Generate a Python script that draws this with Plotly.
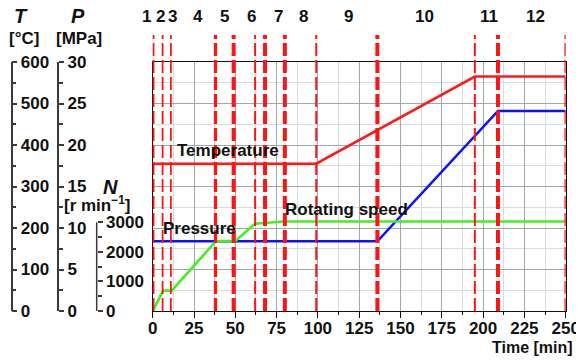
import plotly.graph_objects as go

# ---- data ----
time_T = [0, 99, 195, 250]
temp_C = [355, 355, 565, 565]

time_P = [0, 136, 209, 250]
pres_MPa = [8.4, 8.4, 24.1, 24.1]

time_N = [0, 6.4, 11.5, 38.3, 49.8, 62, 79, 250]
speed_rpm = [0, 690, 690, 2360, 2360, 2950, 3025, 3025]

phase_bounds = [0, 6, 11, 38, 49, 62, 68, 80, 99, 136, 195, 209, 250]
phase_labels = ["1", "2", "3", "4", "5", "6", "7", "8", "9", "10", "11", "12"]
phase_label_px = [146, 160.5, 172.7, 198, 224, 251, 278, 303, 348, 424, 489, 535.5]

x_ticks = [0, 25, 50, 75, 100, 125, 150, 175, 200, 225, 250]
T_ticks = [0, 100, 200, 300, 400, 500, 600]
P_ticks = [0, 5, 10, 15, 20, 25, 30]
N_ticks = [0, 1000, 2000, 3000]
N_minor = [500, 1500, 2500]

# ---- style ----
OFF = 8  # page body margin
W, H = 584 - OFF, 360 - OFF
L_PX, R_PX, TOP_PX, BOT_PX = 152.7, 565.7, 62, 311  # reference pixel coords
FONT = "Liberation Sans, Arial, sans-serif"
phase_widths = [3.5, 1.8, 1.8, 3.3, 4, 2, 4, 4, 2, 4, 2, 4, 2.5]
DARK_GRID = "#9eaaaa"
LIGHT_GRID = "#d4dede"
AX = "#3a3a3a"

def px_x(p):
    return (p - OFF) / W

def px_y(p):
    return (BOT_PX - p) / (BOT_PX - TOP_PX)

N_top = 3000 * (BOT_PX - TOP_PX) / (BOT_PX - 222.2)

fig = go.Figure()
fig.add_trace(go.Scatter(x=[0], y=[0], mode="markers", marker=dict(opacity=0),
                         showlegend=False, hoverinfo="skip"))
fig.add_trace(go.Scatter(x=time_P, y=pres_MPa, yaxis="y3", mode="lines",
                         line=dict(color="#1010ff", width=2.6), showlegend=False))
fig.add_trace(go.Scatter(x=time_T, y=temp_C, yaxis="y2", mode="lines",
                         line=dict(color="#ff1a1a", width=2.6), showlegend=False))
fig.add_trace(go.Scatter(x=time_N, y=speed_rpm, yaxis="y4", mode="lines",
                         line=dict(color="#44ee22", width=2.6), showlegend=False))

tickfont = dict(family=FONT, size=17, color="#111", weight="bold")

fig.update_layout(
    template="none",
    width=W, height=H,
    margin=dict(l=0, r=0, t=TOP_PX - OFF, b=(360 - BOT_PX), pad=0),
    paper_bgcolor="white", plot_bgcolor="white",
    showlegend=False,
    xaxis=dict(domain=[px_x(L_PX), px_x(R_PX)], range=[0, 250], tickvals=x_ticks,
               ticks="outside", ticklen=6, tickwidth=1.3, tickcolor="#111",
               ticklabelstandoff=-5,
               showline=True, linecolor="#111", linewidth=1.3, mirror=True,
               showgrid=True, gridcolor=DARK_GRID, gridwidth=1.2, zeroline=False,
               tickfont=tickfont, automargin=False,
               minor=dict(dtick=12.5, tick0=0, ticks="outside", ticklen=3, tickwidth=1,
                          tickcolor="#111", showgrid=True, gridcolor=LIGHT_GRID, gridwidth=1.2)),
    yaxis=dict(range=[0, 30], dtick=5, tick0=0, showticklabels=False, ticks="",
               showline=True, linecolor="#111", linewidth=1.3, mirror=True,
               showgrid=True, gridcolor=DARK_GRID, gridwidth=1.2, zeroline=False,
               automargin=False,
               minor=dict(dtick=2.5, tick0=0, showgrid=True, gridcolor=LIGHT_GRID, gridwidth=1.2)),
    yaxis2=dict(overlaying="y", anchor="free", position=px_x(11.7), side="right",
                range=[0, 600], tickvals=T_ticks, ticks="outside", ticklen=5, tickwidth=1.5,
                tickcolor=AX, showline=True, linecolor=AX, linewidth=1.5,
                showgrid=False, zeroline=False, tickfont=tickfont, automargin=False,
                minor=dict(dtick=50, tick0=0, ticks="outside", ticklen=4, tickwidth=1.5, tickcolor=AX)),
    yaxis3=dict(overlaying="y", anchor="free", position=px_x(58.3), side="right",
                range=[0, 30], tickvals=P_ticks, ticks="outside", ticklen=5, tickwidth=1.5,
                tickcolor=AX, showline=True, linecolor=AX, linewidth=1.5,
                showgrid=False, zeroline=False, tickfont=tickfont, automargin=False,
                minor=dict(dtick=2.5, tick0=0, ticks="outside", ticklen=4, tickwidth=1.5, tickcolor=AX)),
    yaxis4=dict(overlaying="y", anchor="free", position=px_x(96.7), side="right",
                range=[0, N_top], tickvals=N_ticks, ticks="outside", ticklen=5, tickwidth=1.5,
                tickcolor=AX, showline=False,
                showgrid=False, zeroline=False, tickfont=tickfont, automargin=False,
                minor=dict(tickvals=N_minor, ticks="outside", ticklen=4, tickwidth=1.5, tickcolor=AX)),
)

# N axis line only up to its top tick
fig.add_shape(type="line", xref="paper", yref="y4", x0=px_x(96.7), x1=px_x(96.7),
              y0=N_ticks[0], y1=N_ticks[-1], line=dict(color=AX, width=1.5), layer="above")

# phase boundaries
for t, w in zip(phase_bounds, phase_widths):
    fig.add_shape(type="line", xref="x", yref="paper", x0=t, x1=t, y0=0, y1=px_y(35),
                  line=dict(color="#ff1414", width=w, dash="13px,4px"), layer="above")

bold = dict(family=FONT, size=17, color="#111", weight="bold")
for lab, xp in zip(phase_labels, phase_label_px):
    fig.add_annotation(x=px_x(xp), y=px_y(16.5), xref="paper", yref="paper", text=lab,
                       showarrow=False, font=bold, xanchor="center", yanchor="middle",
                       borderpad=0)

def ann(text, xp, yp, font, xanchor="center"):
    fig.add_annotation(x=px_x(xp), y=px_y(yp), xref="paper", yref="paper", text=text,
                       showarrow=False, font=font, xanchor=xanchor, yanchor="middle",
                       borderpad=0)

ital = dict(family=FONT, size=20, color="#111", weight="bold", style="italic")
ann("T", 21, 16, ital)
ann("P", 77.5, 16, ital)
ann("[°C]", 24, 39, bold)
ann("[MPa]", 79, 39, bold)
ann("N", 110, 187, ital)
ann("[r min<sup>−1</sup>]", 97, 204, bold)
ann("Time [min]", 574, 347, dict(family=FONT, size=16, color="#111", weight="bold"), xanchor="right")

# series labels
fig.add_annotation(x=45.7, y=19.3, xref="x", yref="y", text="Temperature", showarrow=False,
                   font=bold, xanchor="center", yanchor="middle")
fig.add_annotation(x=28.1, y=9.94, xref="x", yref="y", text="Pressure", showarrow=False,
                   font=bold, xanchor="center", yanchor="middle")
fig.add_annotation(x=117.3, y=12.2, xref="x", yref="y", text="Rotating speed", showarrow=False,
                   font=bold, xanchor="center", yanchor="middle")

fig.write_html("out.html")
